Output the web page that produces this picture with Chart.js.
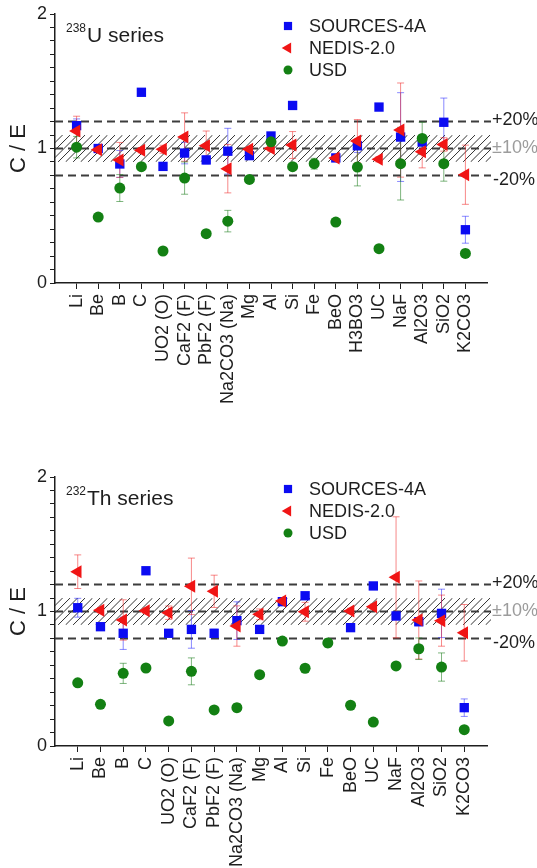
<!DOCTYPE html>
<html>
<head>
<meta charset="utf-8">
<script src="https://cdn.jsdelivr.net/npm/chart.js@4.4.1/dist/chart.umd.min.js"></script>
<style>
  body { margin: 0; background: #fff; }
  .wrap { position: absolute; left: 0; width: 537px; }
  #uWrap { top: 0; height: 430px; }
  #thWrap { top: 463px; height: 405px; }
</style>
</head>
<body>
<div class="wrap" id="uWrap"><canvas id="uChart"></canvas></div>
<div class="wrap" id="thWrap"><canvas id="thChart"></canvas></div>
<script>
// ---- 238U series ----
const uCategories = ['Li', 'Be', 'B', 'C', 'UO2 (O)', 'CaF2 (F)', 'PbF2 (F)', 'Na2CO3 (Na)', 'Mg', 'Al', 'Si', 'Fe',
  'BeO', 'H3BO3', 'UC', 'NaF', 'Al2O3', 'SiO2', 'K2CO3'];
const uSources = [1.17, 1.00, 0.885, 1.418, 0.867, 0.966, 0.915, 0.98, 0.947, 1.093, 1.32, null, 0.93, 1.02, 1.308, 1.085, 1.048, 1.195, 0.396];
const uSourcesErr = [0.05, 0.02, 0.10, 0, 0.01, 0.08, 0.03, 0.17, 0.02, 0.02, 0, null, 0.02, 0.05, 0, 0.33, 0.05, 0.18, 0.10];
const uNedis = [1.13, 0.99, 0.915, 0.987, 0.994, 1.085, 1.02, 0.85, 0.994, 1.00, 1.026, null, 0.93, 1.055, 0.92, 1.137, 0.976, 1.03, 0.805];
const uNedisErr = [0.11, 0.02, 0.13, 0.02, 0.03, 0.18, 0.11, 0.18, 0.02, 0.02, 0.10, null, 0.02, 0.16, 0.02, 0.35, 0.12, 0.05, 0.22];
const uUsd = [1.01, 0.49, 0.706, 0.865, 0.238, 0.78, 0.367, 0.46, 0.77, 1.05, 0.865, 0.887, 0.453, 0.862, 0.255, 0.887, 1.075, 0.887, 0.22];
const uUsdErr = [0.08, 0.01, 0.10, 0.01, 0.01, 0.12, 0.01, 0.08, 0.01, 0.02, 0.02, 0.04, 0.01, 0.14, 0.01, 0.27, 0.12, 0.13, 0.03];

// ---- 232Th series ----
const thCategories = ['Li', 'Be', 'B', 'C', 'UO2 (O)', 'CaF2 (F)', 'PbF2 (F)', 'Na2CO3 (Na)', 'Mg', 'Al', 'Si', 'Fe',
  'BeO', 'UC', 'NaF', 'Al2O3', 'SiO2', 'K2CO3'];
const thSources = [1.028, 0.887, 0.838, 1.303, 0.838, 0.867, 0.838, 0.932, 0.867, 1.073, 1.117, null, 0.88, 1.19, 0.967, 0.924, 0.986, 0.285];
const thSourcesErr = [0.07, 0.01, 0.12, 0, 0.01, 0.14, 0.03, 0.14, 0.01, 0.02, 0.01, null, 0.01, 0.01, 0.03, 0.03, 0.18, 0.065];
const thNedis = [1.296, 1.01, 0.937, 1.006, 0.991, 1.187, 1.15, 0.892, 0.979, 1.078, 0.998, null, 1.004, 1.036, 1.254, 0.937, 0.932, 0.842];
const thNedisErr = [0.125, 0.02, 0.15, 0.02, 0.05, 0.21, 0.12, 0.15, 0.04, 0.02, 0.07, null, 0.02, 0.02, 0.45, 0.29, 0.19, 0.21];
const thUsd = [0.47, 0.31, 0.54, 0.58, 0.186, 0.555, 0.268, 0.285, 0.53, 0.78, 0.578, 0.766, 0.303, 0.178, 0.595, 0.723, 0.587, 0.121];
const thUsdErr = [0.01, 0.01, 0.075, 0.01, 0.01, 0.10, 0.01, 0.03, 0.01, 0.01, 0.01, 0.03, 0.01, 0.01, 0.01, 0.08, 0.105, 0.01];

// reference lines: ±10% band, ±20% dashed
const bandLow = 0.9, bandHigh = 1.1;
const dashLevels = [0.8, 1.0, 1.2];

const BLUE = '#0b0bf2', RED = '#f01515', GREEN = '#138013';
const TEXT = '#1e1e1e';
const FONT = 'Arimo, "Liberation Sans", Arial, sans-serif';

function points(values) {
  return values.map((v, i) => ({ x: i, y: v })).filter(p => p.y !== null);
}

function makeDatasets(src, srcErr, ned, nedErr, usd, usdErr) {
  return [
    { label: 'SOURCES-4A', data: points(src), errors: srcErr.filter(e => e !== null), errColor: 'rgba(40,40,255,0.55)',
      pointStyle: 'rect', pointRadius: 6.6, backgroundColor: BLUE, borderColor: BLUE, borderWidth: 0, order: 3 },
    { label: 'NEDIS-2.0', data: points(ned), errors: nedErr.filter(e => e !== null), errColor: 'rgba(240,40,40,0.55)',
      pointStyle: 'triangle', rotation: -90, pointRadius: 7.5, backgroundColor: RED, borderColor: RED, borderWidth: 0, order: 2 },
    { label: 'USD', data: points(usd), errors: usdErr, errColor: 'rgba(20,120,20,0.55)',
      pointStyle: 'circle', pointRadius: 5.5, backgroundColor: GREEN, borderColor: GREEN, borderWidth: 0, order: 1 }
  ];
}

// hatched band, dashed levels and their labels, then error bars
const backdrop = {
  id: 'backdrop',
  beforeDatasetsDraw(chart) {
    const { ctx, chartArea: a, scales: { y } } = chart;
    const x0 = a.left, x1 = a.right + 4;
    const yt = y.getPixelForValue(bandHigh), yb = y.getPixelForValue(bandLow);
    ctx.save();
    ctx.beginPath();
    ctx.rect(x0, yt, x1 - x0, yb - yt);
    ctx.clip();
    ctx.strokeStyle = '#333';
    ctx.lineWidth = 1;
    const h = yb - yt;
    ctx.beginPath();
    for (let x = x0 - h; x < x1; x += 7.5) {
      ctx.moveTo(x, yb);
      ctx.lineTo(x + h, yt);
    }
    ctx.stroke();
    ctx.restore();

    ctx.save();
    ctx.strokeStyle = '#3c3c3c';
    ctx.lineWidth = 2;
    ctx.setLineDash([8, 5]);
    dashLevels.forEach(v => {
      const py = y.getPixelForValue(v);
      ctx.beginPath();
      ctx.moveTo(x0, py);
      ctx.lineTo(x1, py);
      ctx.stroke();
    });
    ctx.restore();

    ctx.save();
    ctx.font = '18px ' + FONT;
    ctx.textAlign = 'left';
    ctx.textBaseline = 'middle';
    ctx.fillStyle = TEXT;
    ctx.fillText('+20%', x1 + 1, y.getPixelForValue(1.2) - 2);
    ctx.fillText('-20%', x1 + 2, y.getPixelForValue(0.8) + 5);
    ctx.fillStyle = '#9c9c9c';
    ctx.fillText('\u00b110%', x1 + 1, y.getPixelForValue(1.0));
    ctx.restore();

    // error bars
    chart.data.datasets.forEach((ds, di) => {
      const meta = chart.getDatasetMeta(di);
      ctx.save();
      ctx.strokeStyle = ds.errColor;
      ctx.lineWidth = 1;
      meta.data.forEach((el, i) => {
        const e = ds.errors[i];
        if (!e) return;
        const v = ds.data[i].y;
        const top = y.getPixelForValue(v + e), bot = y.getPixelForValue(v - e);
        ctx.beginPath();
        ctx.moveTo(el.x, top); ctx.lineTo(el.x, bot);
        ctx.moveTo(el.x - 3.5, top); ctx.lineTo(el.x + 3.5, top);
        ctx.moveTo(el.x - 3.5, bot); ctx.lineTo(el.x + 3.5, bot);
        ctx.stroke();
      });
      ctx.restore();
    });
  }
};

// series title and in-plot legend
const overlay = {
  id: 'overlay',
  afterDraw(chart, args, opts) {
    const { ctx, chartArea: a } = chart;
    ctx.save();
    ctx.fillStyle = TEXT;
    ctx.textBaseline = 'alphabetic';
    ctx.font = '12px ' + FONT;
    ctx.fillText(opts.mass, 66, a.top + 18);
    const w = ctx.measureText(opts.mass).width;
    ctx.font = '21px ' + FONT;
    ctx.fillText(opts.name, 66 + w + 1, a.top + 28);

    ctx.font = '18px ' + FONT;
    ctx.textBaseline = 'middle';
    chart.data.datasets.forEach((ds, i) => {
      const py = a.top + 12 + i * 22;
      ctx.fillStyle = ds.backgroundColor;
      ctx.strokeStyle = ds.borderColor;
      ctx.lineWidth = 0;
      Chart.helpers.drawPoint(ctx, {
        pointStyle: ds.pointStyle, rotation: ds.rotation || 0,
        radius: ds.pointStyle === 'circle' ? 4.5 : (ds.pointStyle === 'rect' ? 5.8 : 6.3), borderWidth: 0
      }, 288, py);
      ctx.fillStyle = TEXT;
      ctx.fillText(ds.label, 309, py + 1);
    });
    ctx.restore();
  }
};

function makeChart(id, cats, datasets, mass, name, xHeight) {
  const n = cats.length;
  return new Chart(document.getElementById(id), {
    type: 'scatter',
    data: { datasets },
    options: {
      responsive: true,
      maintainAspectRatio: false,
      animation: false,
      layout: { padding: { top: 14, right: 50, left: 0, bottom: 0 } },
      plugins: {
        legend: { display: false },
        tooltip: { enabled: false },
        overlay: { mass, name }
      },
      scales: {
        x: {
          type: 'linear', min: -1, max: n,
          afterFit: s => { s.height = xHeight; },
          border: { color: TEXT, width: 1.5 },
          grid: {
            drawOnChartArea: false, tickLength: 6,
            tickColor: c => (c.tick && (c.tick.value < 0 || c.tick.value > n - 1)) ? 'rgba(0,0,0,0)' : TEXT
          },
          ticks: {
            stepSize: 1, autoSkip: false, maxRotation: 90, minRotation: 90, padding: 5,
            color: TEXT, font: { size: 18, family: FONT },
            callback: v => cats[v] !== undefined ? cats[v] : ''
          }
        },
        y: {
          min: 0, max: 2,
          afterFit: s => { s.width = 55; },
          border: { color: TEXT, width: 1.5 },
          grid: { drawOnChartArea: false, tickLength: 5, tickColor: TEXT },
          title: { display: true, text: 'C / E', color: TEXT, font: { size: 22, family: FONT }, padding: { top: 6, bottom: 0 } },
          ticks: {
            stepSize: 0.1, maxTicksLimit: 40, autoSkip: false, padding: 3, color: TEXT, font: { size: 18, family: FONT },
            callback: v => Math.abs(v - Math.round(v)) < 1e-6 ? String(Math.round(v)) : ''
          }
        }
      }
    },
    plugins: [backdrop, overlay]
  });
}

makeChart('uChart', uCategories, makeDatasets(uSources, uSourcesErr, uNedis, uNedisErr, uUsd, uUsdErr), '238', 'U series', 147);
makeChart('thChart', thCategories, makeDatasets(thSources, thSourcesErr, thNedis, thNedisErr, thUsd, thUsdErr), '232', 'Th series', 122);
</script>
</body>
</html>
